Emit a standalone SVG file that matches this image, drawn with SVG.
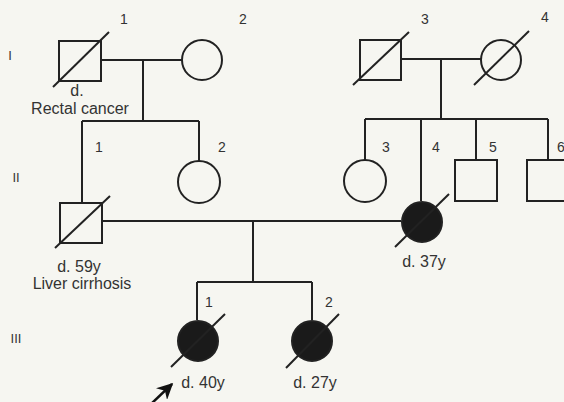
<svg xmlns="http://www.w3.org/2000/svg" width="564" height="402" viewBox="0 0 564 402">
<style>
.s{fill:none;stroke:#222;stroke-width:2}
.f{fill:#1a1a1a;stroke:#222;stroke-width:2}
.d{stroke:#222;stroke-width:2}
text{font-family:"Liberation Sans",Arial,sans-serif;fill:#333}
.n{font-size:14px;text-anchor:middle}
.l{font-size:16px;text-anchor:middle}
.g{font-size:13px;text-anchor:middle}
</style>
<defs>
<marker id="ah" viewBox="0 0 10 10" refX="9" refY="5" markerWidth="6.5" markerHeight="6.5" orient="auto">
<path d="M0,0 L10,5 L0,10 L3,5 Z" fill="#111"/>
</marker>
</defs>
<rect width="564" height="402" fill="#f6f6f1"/>
<g id="generations">
<text class="g" x="10" y="60">I</text>
<text class="g" x="16" y="182">II</text>
<text class="g" x="16" y="343">III</text>
</g>
<g id="connectors">
<path class="s" d="M101,60 H182 M143,60 V121 M82,121 H199 M82,121 V203 M199,121 V161"/>
<path class="s" d="M401,59 H481 M441,59 V119 M365,119 H548 M365,119 V160 M421,119 V201 M476,119 V160 M548,119 V160"/>
<path class="s" d="M102,221 H401 M253,221 V282 M197,282 H312 M197,282 V320 M312,282 V320"/>
<line x1="150" y1="405" x2="172" y2="384" stroke="#111" stroke-width="2.5" marker-end="url(#ah)"/>
</g>
<g id="I-1">
<rect class="s" x="59" y="41" width="42" height="40"/>
<line class="d" x1="53" y1="87" x2="109" y2="32"/>
<text class="n" x="124" y="24">1</text>
<text class="l" x="77" y="96">d.</text>
<text class="l" x="80" y="114">Rectal cancer</text>
</g>
<g id="I-2">
<circle class="s" cx="202" cy="60" r="20"/>
<text class="n" x="243" y="24">2</text>
</g>
<g id="I-3">
<rect class="s" x="360" y="40" width="41" height="40"/>
<line class="d" x1="353" y1="85" x2="409" y2="32"/>
<text class="n" x="425" y="24">3</text>
</g>
<g id="I-4">
<circle class="s" cx="501" cy="60" r="20"/>
<line class="d" x1="474" y1="85" x2="529" y2="31"/>
<text class="n" x="545" y="22">4</text>
</g>
<g id="II-1">
<rect class="s" x="60" y="203" width="42" height="40"/>
<line class="d" x1="55" y1="248" x2="110" y2="196"/>
<text class="n" x="99" y="152">1</text>
<text class="l" x="79" y="272">d. 59y</text>
<text class="l" x="82" y="289">Liver cirrhosis</text>
</g>
<g id="II-2">
<circle class="s" cx="199" cy="182" r="21"/>
<text class="n" x="222" y="152">2</text>
</g>
<g id="II-3">
<circle class="s" cx="365" cy="181" r="21"/>
<text class="n" x="386" y="152">3</text>
</g>
<g id="II-4">
<circle class="f" cx="422" cy="222" r="20"/>
<line class="d" x1="395" y1="247" x2="449" y2="194"/>
<text class="n" x="436" y="152">4</text>
<text class="l" x="424" y="267">d. 37y</text>
</g>
<g id="II-5">
<rect class="s" x="455" y="160" width="42" height="41"/>
<text class="n" x="493" y="152">5</text>
</g>
<g id="II-6">
<rect class="s" x="527" y="160" width="42" height="41"/>
<text class="n" x="561" y="152">6</text>
</g>
<g id="III-1">
<circle class="f" cx="198" cy="341" r="20"/>
<line class="d" x1="171" y1="367" x2="225" y2="314"/>
<text class="n" x="209" y="307">1</text>
<text class="l" x="203" y="388">d. 40y</text>
</g>
<g id="III-2">
<circle class="f" cx="312" cy="341" r="20"/>
<line class="d" x1="286" y1="368" x2="339" y2="314"/>
<text class="n" x="329" y="307">2</text>
<text class="l" x="315" y="388">d. 27y</text>
</g>
</svg>
